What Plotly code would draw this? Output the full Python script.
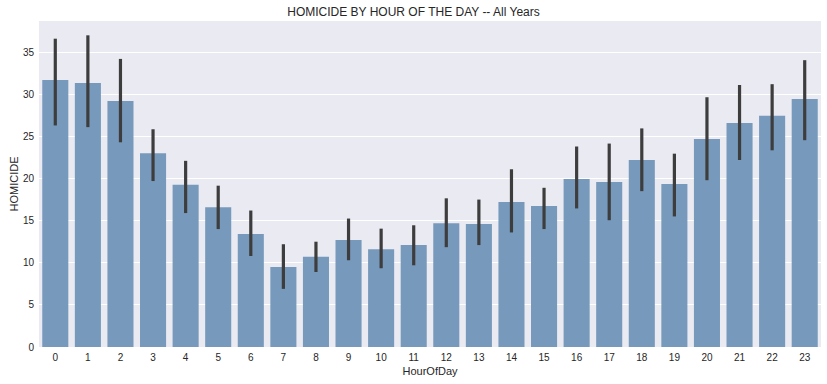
import plotly.graph_objects as go

hours = list(range(24))
homicide = [31.7, 31.35, 29.2, 23.0, 19.25, 16.6, 13.4, 9.5, 10.7, 12.7, 11.6, 12.1,
            14.7, 14.6, 17.2, 16.75, 19.95, 19.6, 22.2, 19.35, 24.7, 26.6, 27.45, 29.45]
ci_high = [36.6, 37.0, 34.2, 25.85, 22.1, 19.15, 16.2, 12.2, 12.5, 15.25, 14.05, 14.45,
           17.65, 17.5, 21.1, 18.9, 23.8, 24.15, 25.95, 22.95, 29.65, 31.1, 31.2, 34.05]
ci_low = [26.3, 26.1, 24.3, 19.7, 15.9, 14.0, 10.8, 6.9, 8.9, 10.3, 9.35, 9.7,
          11.85, 12.1, 13.6, 14.0, 16.45, 15.05, 18.5, 15.5, 19.8, 22.2, 23.35, 24.55]

plus = [h - v for h, v in zip(ci_high, homicide)]
minus = [v - l for v, l in zip(homicide, ci_low)]

fig = go.Figure()
fig.add_trace(go.Bar(
    x=hours, y=homicide, width=0.8,
    marker=dict(color='rgb(119,153,187)', line=dict(width=0)),
    error_y=dict(type='data', symmetric=False, array=plus, arrayminus=minus,
                 color='#3d3d3d', thickness=3.2, width=0),
))
fig.update_layout(
    width=827, height=384,
    margin=dict(l=39, r=6, t=21, b=37),
    paper_bgcolor='white', plot_bgcolor='#EAEAF2',
    font=dict(family='Liberation Sans, Arial, sans-serif', color='#262626', size=10),
    title=dict(text='HOMICIDE BY HOUR OF THE DAY -- All Years', x=0.5, xanchor='center',
               y=1 - 11.5 / 384, yref='container', yanchor='middle',
               font=dict(size=12, color='#262626')),
    showlegend=False,
    bargap=0.2,
)
fig.update_xaxes(range=[-0.5, 23.5], tickmode='array', tickvals=hours,
                 ticktext=[str(h) for h in hours], showgrid=False, zeroline=False,
                 ticks='', ticklabelstandoff=3,
                 title=dict(text='HourOfDay', font=dict(size=11), standoff=5),
                 tickfont=dict(size=10, color='#262626'))
fig.update_yaxes(range=[0, 38.7], tickvals=[0, 5, 10, 15, 20, 25, 30, 35],
                 showgrid=True, gridcolor='white', gridwidth=1, zeroline=False,
                 ticks='', ticklabelstandoff=4,
                 title=dict(text='HOMICIDE', font=dict(size=11), standoff=2),
                 tickfont=dict(size=10, color='#262626'))
fig.write_html('out.html', config={'displayModeBar': False},
               post_script="document.body.style.margin='0';")
